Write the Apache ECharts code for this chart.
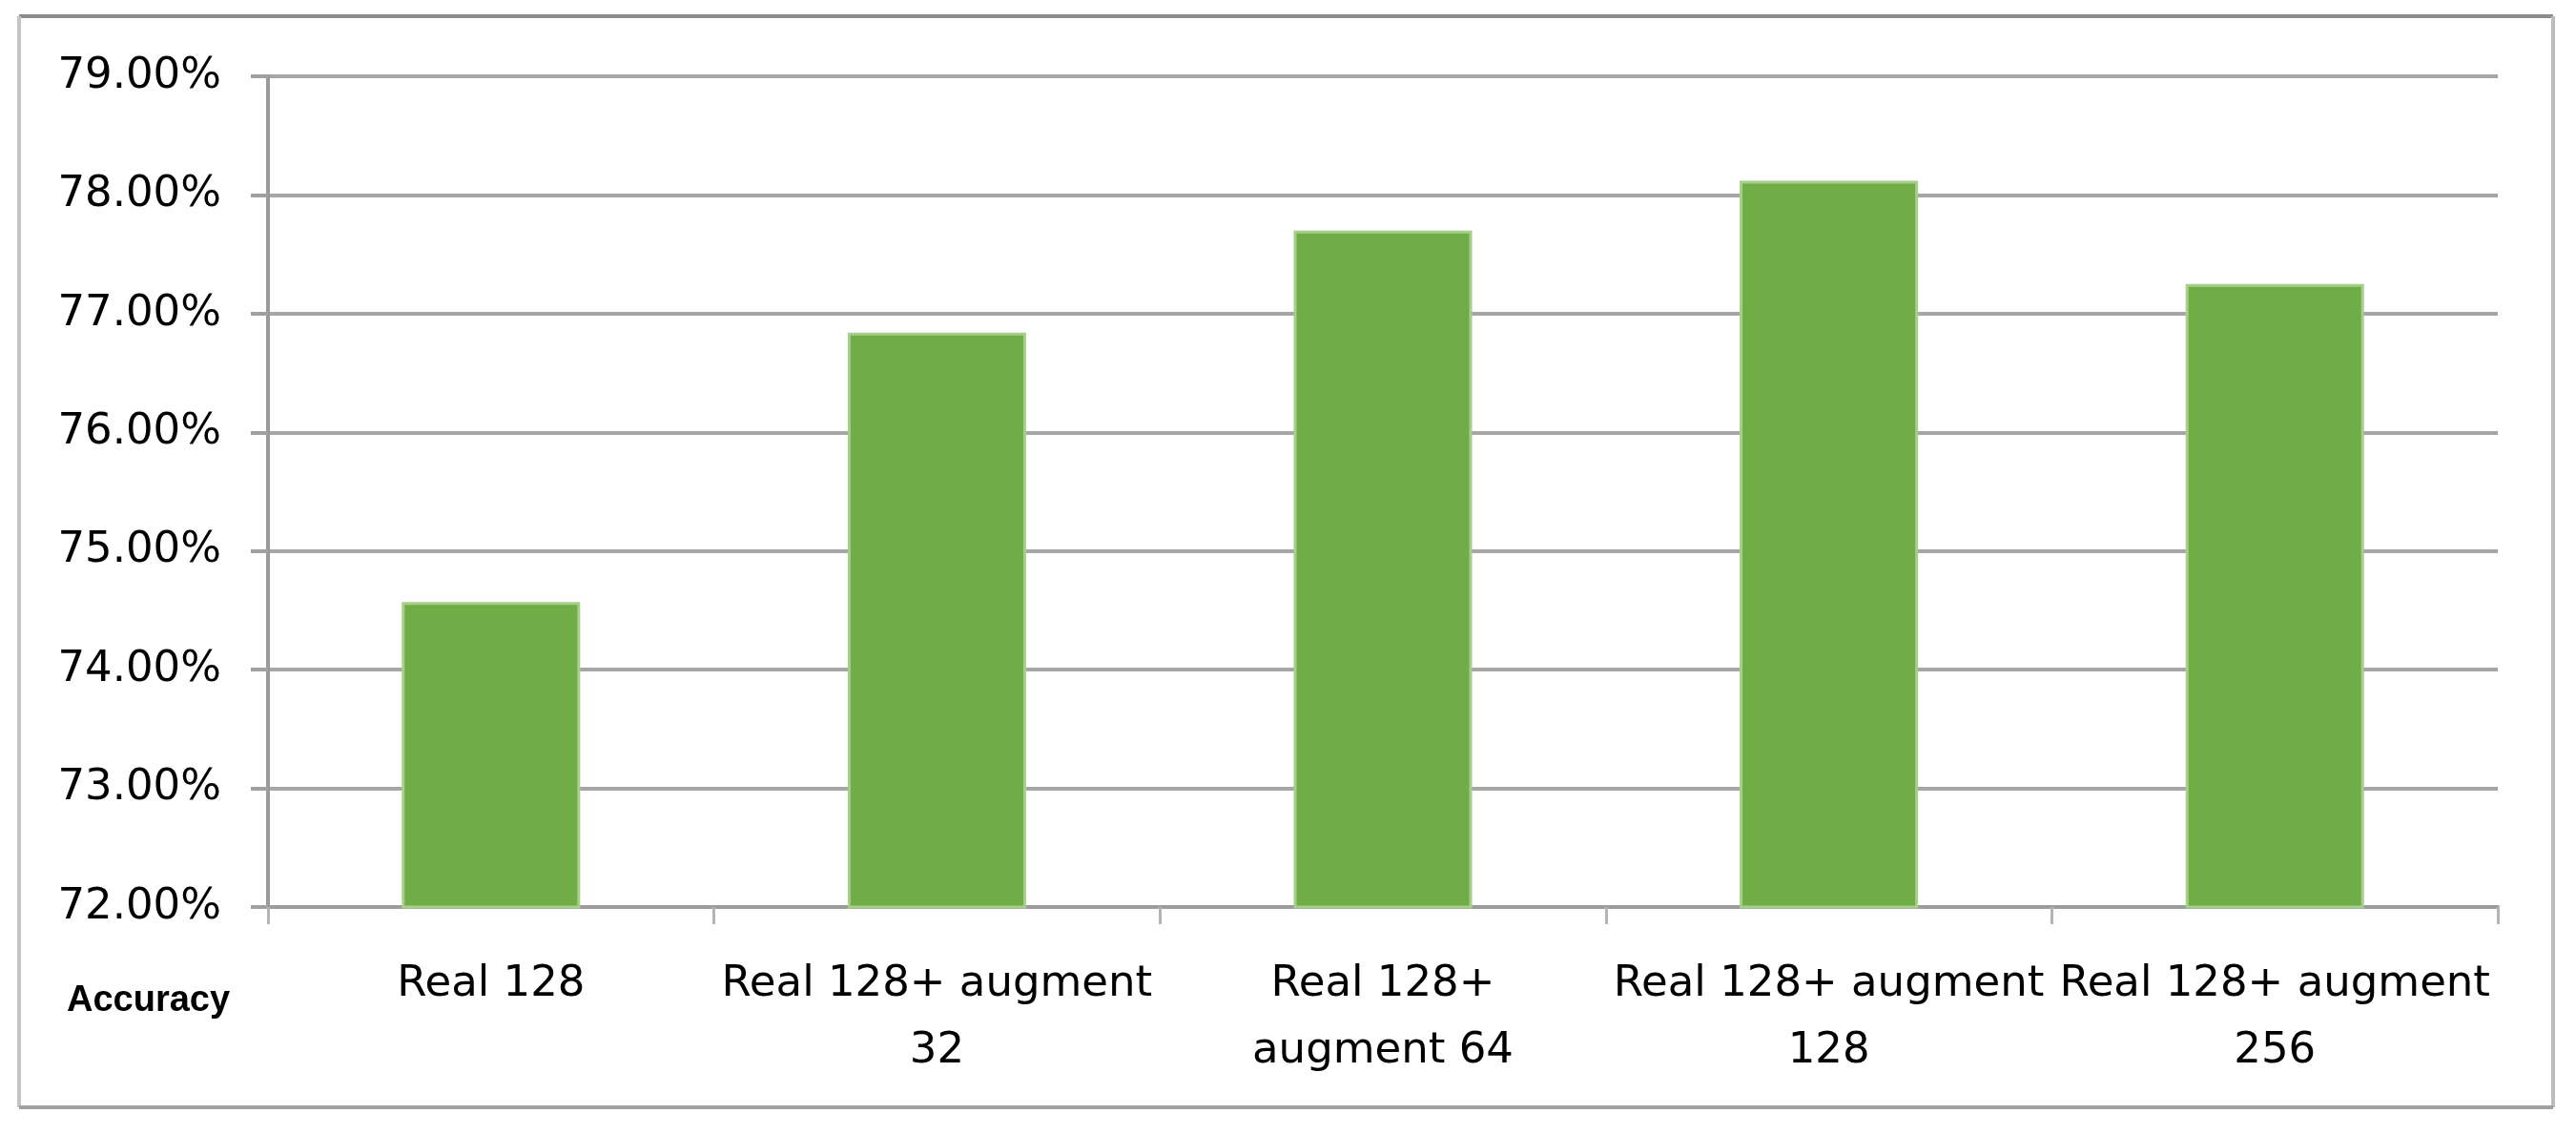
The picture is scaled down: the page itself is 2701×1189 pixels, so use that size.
<!DOCTYPE html>
<html>
<head>
<meta charset="utf-8">
<title>Accuracy</title>
<script src="https://cdn.jsdelivr.net/npm/echarts@6/dist/echarts.min.js"></script>
<style>
  html, body { margin: 0; padding: 0; background: #fff; }
  #chart { width: 2701px; height: 1189px; }
</style>
</head>
<body>
<div id="chart"></div>
<script>
// category labels (line breaks as they appear under the axis)
const categories = [
  'Real 128',
  'Real 128+ augment\n32',
  'Real 128+\naugment 64',
  'Real 128+ augment\n128',
  'Real 128+ augment\n256'
]
// accuracy in percent
const accuracy = [74.57, 76.84, 77.70, 78.12, 77.25]
const yMin = 72
const yMax = 79
const yStep = 1

const chart = echarts.init(document.getElementById('chart'))

// frame around the whole chart
const frame = [
  { x1: 20, y1: 17, x2: 2677, y2: 17, color: '#8c8c8c' },
  { x1: 20, y1: 17, x2: 20, y2: 1161, color: '#c4c4c4' },
  { x1: 2677, y1: 17, x2: 2677, y2: 1161, color: '#bcbcbc' },
  { x1: 20, y1: 1161, x2: 2677, y2: 1161, color: '#a0a0a0' }
]

chart.setOption({
  backgroundColor: '#fff',
  animation: false,
  title: {
    text: 'Accuracy',
    left: 70,
    top: 1031,
    padding: 0,
    textStyle: {
      fontFamily: 'Liberation Sans',
      fontWeight: 'bold',
      fontSize: 38,
      color: '#000'
    }
  },
  graphic: frame.map(l => ({
    type: 'line',
    shape: { x1: l.x1, y1: l.y1, x2: l.x2, y2: l.y2 },
    style: { stroke: l.color, lineWidth: 4 },
    silent: true
  })),
  grid: {
    left: 281,
    top: 80,
    width: 2338,
    height: 871,
    outerBoundsMode: 'none'
  },
  xAxis: {
    type: 'category',
    data: categories,
    axisLine: { lineStyle: { color: '#9c9c9c', width: 4 } },
    axisTick: { show: true, length: 18, lineStyle: { color: '#b4b4b4', width: 3 } },
    axisLabel: {
      interval: 0,
      margin: 46,
      fontFamily: 'DejaVu Sans',
      fontSize: 45,
      lineHeight: 70,
      color: '#000'
    }
  },
  yAxis: {
    type: 'value',
    min: yMin,
    max: yMax,
    interval: yStep,
    axisLine: { show: true, lineStyle: { color: '#9a9a9a', width: 4 } },
    axisTick: { show: true, length: 18, lineStyle: { color: '#a0a0a0', width: 4 } },
    splitLine: { lineStyle: { color: '#a6a6a6', width: 4 } },
    axisLabel: {
      margin: 49,
      fontFamily: 'DejaVu Sans',
      fontSize: 45,
      color: '#000',
      formatter: v => v.toFixed(2) + '%'
    }
  },
  series: [
    {
      type: 'bar',
      data: accuracy,
      barCategoryGap: '60%',
      itemStyle: {
        color: '#71ad46',
        borderColor: '#a6cf8a',
        borderWidth: 3
      }
    }
  ]
})
</script>
</body>
</html>
